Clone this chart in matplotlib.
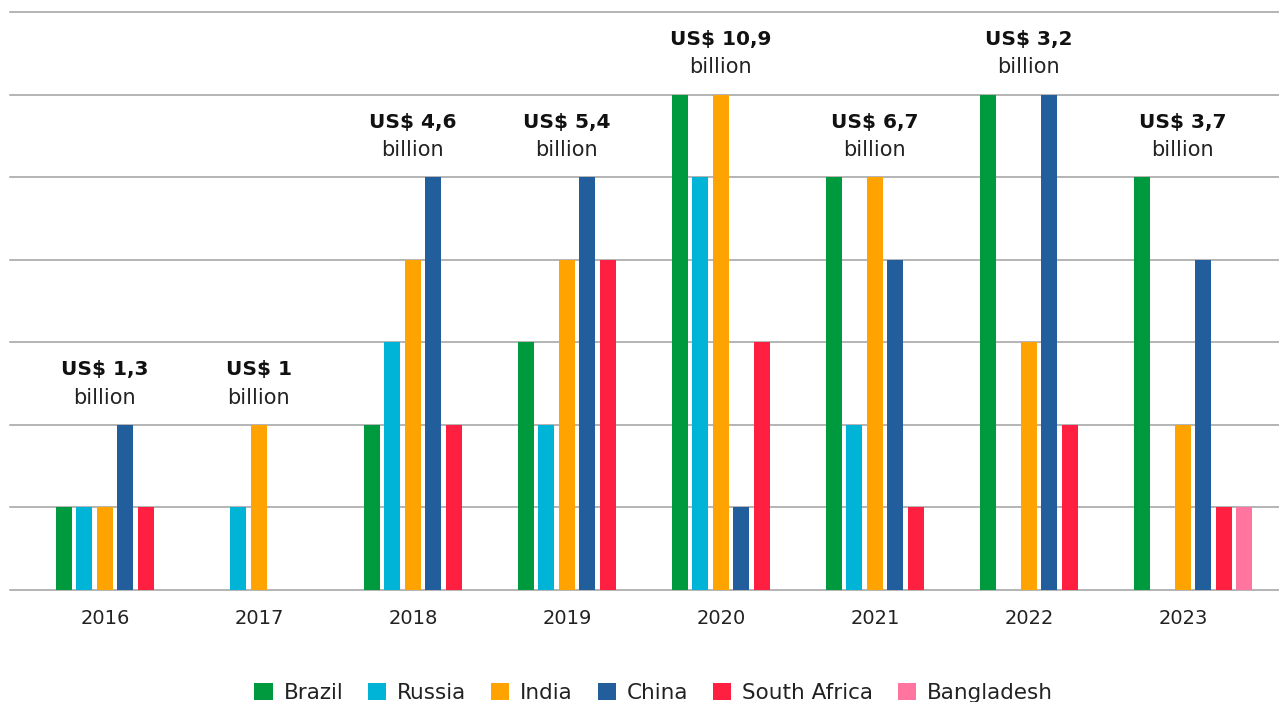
import matplotlib
matplotlib.use("Agg")
import matplotlib.pyplot as plt
from matplotlib.patches import Patch
import numpy as np

plt.rcParams['font.family'] = ['DejaVu Sans']

years = ["2016", "2017", "2018", "2019", "2020", "2021", "2022", "2023"]
countries = ["Brazil", "Russia", "India", "China", "South Africa", "Bangladesh"]
colors = ["#009A3E", "#00B4D8", "#FFA300", "#225E9B", "#FF1F40", "#FF75A0"]

brazil = [1, 0, 2, 3, 6, 5, 6, 5]
russia = [1, 1, 3, 2, 5, 2, 0, 0]
india = [1, 2, 4, 4, 6, 5, 3, 2]
china = [2, 0, 5, 5, 1, 4, 6, 4]
south_africa = [1, 0, 2, 4, 3, 1, 2, 1]
bangladesh = [0, 0, 0, 0, 0, 0, 0, 1]
series = [brazil, russia, india, china, south_africa, bangladesh]

totals = ["1,3", "1", "4,6", "5,4", "10,9", "6,7", "3,2", "3,7"]

fig = plt.figure(figsize=(12.79, 7.02), dpi=100)
ax = fig.add_axes([10 / 1279, 112 / 702, 1269 / 1279, 578 / 702])

slot = 20.5 / 154   # distance between bars inside a group
width = 16 / 154
x = np.arange(len(years))

for j, (vals, col, name) in enumerate(zip(series, colors, countries)):
    v = np.array(vals, dtype=float)
    ax.bar(x + j * slot, v, width=width, color=col, label=name, zorder=3)

# group label / annotation position
centers = x + 2 * slot
tops = np.max(np.array(series), axis=0)
for cx, top, tot in zip(centers, tops, totals):
    ax.annotate("US$ " + tot, xy=(cx, top), xytext=(0, 39.5), textcoords='offset points',
                ha='center', va='center', fontsize=14.5, fontweight='bold', color='#111111')
    ax.annotate("billion", xy=(cx, top), xytext=(0, 19.5), textcoords='offset points',
                ha='center', va='center', fontsize=15, color='#222222')

ax.set_xlim(-0.35, 7.89)
ax.set_ylim(0, 7)
ax.set_yticks(range(8))
ax.set_yticklabels([])
ax.set_xticks(centers)
ax.set_xticklabels(years, fontsize=14, color='#222222')
ax.tick_params(axis='both', length=0)
ax.tick_params(axis='x', pad=14)
ax.grid(axis='y', color='#a0a0a0', linewidth=1.1, zorder=0)
for gl in ax.get_ygridlines():
    gl.set_clip_on(False)
for s in ax.spines.values():
    s.set_visible(False)

handles = [Patch(facecolor=c, label=n) for c, n in zip(colors, countries)]
fig.legend(handles=handles, loc='center', bbox_to_anchor=(0.511, 9 / 702), ncol=6,
           frameon=False, fontsize=15.5, handlelength=0.85, handleheight=0.85,
           handletextpad=0.5, columnspacing=1.15, labelcolor='#222222')

fig.savefig("out.png", dpi=100)
